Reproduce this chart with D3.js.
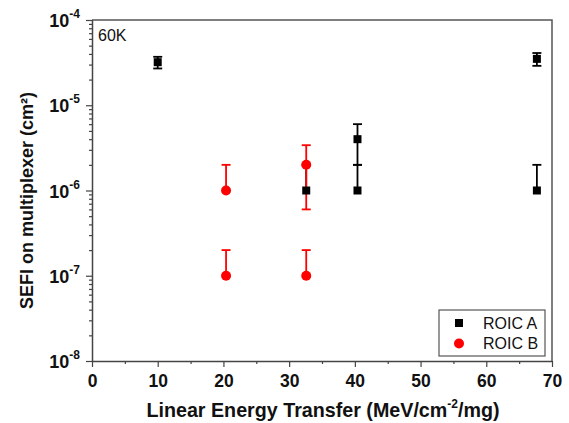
<!DOCTYPE html>
<html>
<head>
<meta charset="utf-8">
<script src="https://cdn.jsdelivr.net/npm/d3@7"></script>
<style>
  body { margin: 0; background: #fff; }
  svg { display: block; font-family: Arial, "Liberation Sans", sans-serif; }
</style>
</head>
<body>
<svg id="chart" width="569" height="423"></svg>
<script>
// ROIC A (black squares)
const letA = [10, 32.6, 40.4, 40.4, 67.7, 67.7];
const sefiA = [3.2e-5, 1e-6, 4e-6, 1e-6, 3.5e-5, 1e-6];
const errA = [0.5e-5, 1e-6, 2e-6, 1e-6, 0.6e-5, 1e-6];

// ROIC B (red circles)
const letB = [20.4, 20.4, 32.6, 32.6];
const sefiB = [1e-6, 1e-7, 2e-6, 1e-7];
const errB = [1e-6, 1e-7, 1.4e-6, 1e-7];

const xTicks = [0, 10, 20, 30, 40, 50, 60, 70];
const xMinor = [5, 15, 25, 35, 45, 55, 65];
const yExps = [-8, -7, -6, -5, -4];

const margin = {top: 20, right: 17, bottom: 62, left: 92};
const width = 569 - margin.left - margin.right,
  height = 423 - margin.top - margin.bottom;

const x = d3.scaleLinear().domain([0, 70]).range([0, width]);
const y = d3.scaleLog().domain([1e-8, 1e-4]).range([height, 0]);

const svg = d3.select('#chart')
  .append('g')
  .attr('transform', 'translate(' + margin.left + ',' + margin.top + ')');

// frame (top + right)
svg.append('path')
  .attr('d', 'M0,0H' + width + 'V' + height)
  .attr('fill', 'none')
  .attr('stroke', '#555')
  .attr('stroke-width', 1.5);

// y minor ticks
const yMinor = [];
yExps.slice(0, -1).forEach(e => { for (let k = 2; k <= 9; k++) yMinor.push(k * Math.pow(10, e)); });

svg.append('g')
  .call(d3.axisLeft(y).tickValues(yMinor).tickSize(3).tickSizeOuter(0).tickFormat(''))
  .call(g => g.selectAll('line').attr('stroke', '#444').attr('stroke-width', 1.2));

const yAxis = svg.append('g')
  .call(d3.axisLeft(y).tickValues(yExps.map(e => Math.pow(10, e))).tickSize(6).tickSizeOuter(0).tickFormat(''));
yAxis.select('.domain').attr('stroke', '#444').attr('stroke-width', 1.5);
yAxis.selectAll('line').attr('stroke', '#444').attr('stroke-width', 1.2);

yExps.forEach(e => {
  const t = svg.append('text')
    .attr('x', -12)
    .attr('y', y(Math.pow(10, e)) + 7)
    .attr('text-anchor', 'end')
    .attr('font-weight', 'bold')
    .attr('font-size', 18)
    .attr('fill', '#111');
  t.append('tspan').text('10');
  t.append('tspan').attr('font-size', 12).attr('dy', -9).text(String(e));
});

// x axis
svg.append('g')
  .attr('transform', 'translate(0,' + height + ')')
  .call(d3.axisBottom(x).tickValues(xMinor).tickSize(3).tickSizeOuter(0).tickFormat(''))
  .call(g => g.selectAll('line').attr('stroke', '#444').attr('stroke-width', 1.2));

const xAxis = svg.append('g')
  .attr('transform', 'translate(0,' + height + ')')
  .call(d3.axisBottom(x).tickValues(xTicks).tickSize(6).tickSizeOuter(0));
xAxis.select('.domain').attr('stroke', '#444').attr('stroke-width', 1.5);
xAxis.selectAll('line').attr('stroke', '#444').attr('stroke-width', 1.2);
xAxis.selectAll('text')
  .attr('font-size', 17.5)
  .attr('font-weight', 'bold')
  .attr('font-family', 'Arial, "Liberation Sans", sans-serif')
  .attr('fill', '#111')
  .attr('dy', null)
  .attr('y', 26);

// axis titles
const xt = svg.append('text')
  .attr('x', 231)
  .attr('y', height + 56)
  .attr('text-anchor', 'middle')
  .attr('font-weight', 'bold')
  .attr('font-size', 19.7)
  .attr('fill', '#111');
xt.append('tspan').text('Linear Energy Transfer (MeV/cm');
xt.append('tspan').attr('font-size', 12).attr('dy', -9).text('-2');
xt.append('tspan').attr('dy', 9).text('/mg)');

svg.append('text')
  .attr('transform', 'translate(-59,' + 180.5 + ') rotate(-90)')
  .attr('text-anchor', 'middle')
  .attr('font-weight', 'bold')
  .attr('font-size', 18)
  .attr('fill', '#111')
  .text('SEFI on multiplexer (cm²)');

svg.append('text')
  .attr('x', 6)
  .attr('y', 21)
  .attr('font-size', 16)
  .attr('fill', '#111')
  .text('60K');

// error bars
function errorBars(xs, ys, es, color) {
  const g = svg.append('g').attr('stroke', color).attr('stroke-width', 1.8).attr('fill', 'none');
  xs.forEach((v, i) => {
    const cx = x(v);
    const top = y(ys[i] + es[i]);
    const lowVal = ys[i] - es[i];
    const bot = lowVal > 0 ? y(lowVal) : y(ys[i]);
    g.append('line').attr('x1', cx).attr('x2', cx).attr('y1', top).attr('y2', bot);
    g.append('line').attr('x1', cx - 4.5).attr('x2', cx + 4.5).attr('y1', top).attr('y2', top);
    if (lowVal > 0) {
      g.append('line').attr('x1', cx - 4.5).attr('x2', cx + 4.5).attr('y1', bot).attr('y2', bot);
    }
  });
}

errorBars(letA, sefiA, errA, '#000');
errorBars(letB, sefiB, errB, '#ff0000');
svg.append('g').selectAll('circle')
  .data(letB)
  .join('circle')
  .attr('cx', d => x(d))
  .attr('cy', (d, i) => y(sefiB[i]))
  .attr('r', 5)
  .attr('fill', '#ff0000');

svg.append('g').selectAll('rect')
  .data(letA)
  .join('rect')
  .attr('x', d => x(d) - 4)
  .attr('y', (d, i) => y(sefiA[i]) - 4)
  .attr('width', 8)
  .attr('height', 8)
  .attr('fill', '#000');

// legend
const lg = svg.append('g').attr('transform', 'translate(' + (439 - margin.left) + ',' + (310 - margin.top) + ')');
lg.append('rect')
  .attr('width', 106)
  .attr('height', 46)
  .attr('fill', '#fff')
  .attr('stroke', '#555')
  .attr('stroke-width', 1.2);
lg.append('rect').attr('x', 16).attr('y', 9).attr('width', 8).attr('height', 8).attr('fill', '#000');
lg.append('circle').attr('cx', 20).attr('cy', 33.5).attr('r', 5).attr('fill', '#ff0000');
lg.append('text').attr('x', 44).attr('y', 18.5).attr('font-size', 16).attr('fill', '#111').text('ROIC A');
lg.append('text').attr('x', 44).attr('y', 39).attr('font-size', 16).attr('fill', '#111').text('ROIC B');
</script>
</body>
</html>
